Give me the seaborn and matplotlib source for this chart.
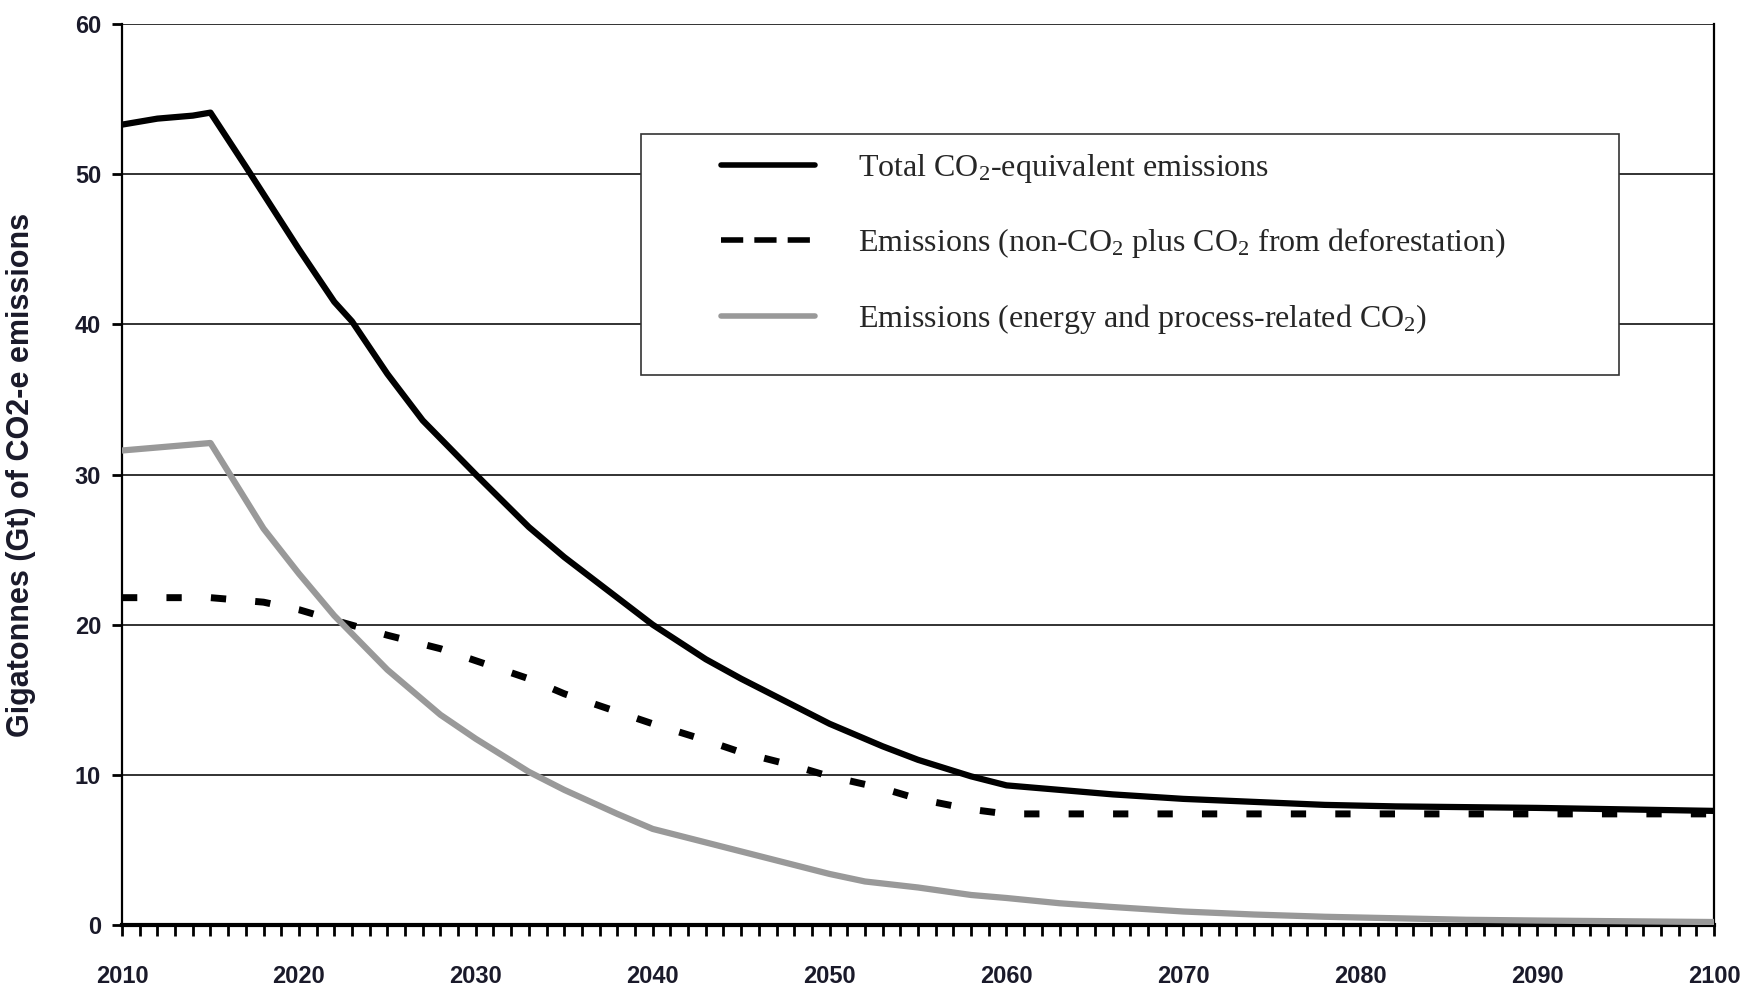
import matplotlib
matplotlib.use("Agg")
import matplotlib.pyplot as plt
from matplotlib.patches import Rectangle
from matplotlib.ticker import MultipleLocator
import seaborn as sns

# Data (Gt CO2-e)
total_years = [2010, 2011, 2012, 2013, 2014, 2015, 2017, 2020, 2022, 2023, 2025, 2027,
               2030, 2033, 2035, 2038, 2040, 2043, 2045, 2048, 2050, 2053, 2055, 2058,
               2060, 2063, 2066, 2070, 2074, 2078, 2082, 2090, 2095, 2100]
total_vals = [53.3, 53.5, 53.7, 53.8, 53.9, 54.1, 50.5, 45.0, 41.5, 40.2, 36.7, 33.6,
              30.0, 26.5, 24.5, 21.8, 20.0, 17.7, 16.4, 14.6, 13.4, 11.9, 11.0, 9.9,
              9.3, 9.0, 8.7, 8.4, 8.2, 8.0, 7.9, 7.8, 7.7, 7.6]

nonco2_years = [2010, 2015, 2018, 2020, 2022, 2025, 2028, 2030, 2033, 2035, 2038, 2040,
                2043, 2045, 2048, 2050, 2053, 2055, 2058, 2060, 2100]
nonco2_vals = [21.8, 21.8, 21.5, 21.0, 20.3, 19.3, 18.4, 17.6, 16.4, 15.4, 14.2, 13.4,
               12.3, 11.5, 10.6, 9.9, 9.1, 8.4, 7.7, 7.4, 7.4]

energy_years = [2010, 2015, 2018, 2020, 2022, 2025, 2028, 2030, 2033, 2035, 2038, 2040,
                2043, 2045, 2048, 2050, 2052, 2055, 2058, 2060, 2063, 2066, 2070, 2074,
                2078, 2082, 2086, 2090, 2095, 2100]
energy_vals = [31.6, 32.1, 26.4, 23.4, 20.6, 17.0, 14.0, 12.4, 10.2, 9.0, 7.4, 6.4,
               5.5, 4.9, 4.0, 3.4, 2.9, 2.5, 2.0, 1.8, 1.45, 1.2, 0.9, 0.7,
               0.55, 0.45, 0.35, 0.3, 0.25, 0.2]

labels = ["Total CO$\\mathregular{_2}$-equivalent emissions",
          "Emissions (non-CO$\\mathregular{_2}$ plus CO$\\mathregular{_2}$ from deforestation)",
          "Emissions (energy and process-related CO$\\mathregular{_2}$)"]

sns.set_style("white")
plt.rcParams["font.family"] = ["Liberation Sans", "DejaVu Sans"]
tick_size = 17

fig = plt.figure(figsize=(17.53, 10.01), dpi=100)
ax = fig.add_axes([0.0696, 0.0759, 0.9082, 0.9001])

sns.lineplot(x=total_years, y=total_vals, ax=ax, color="black", linewidth=4.5,
             label=labels[0], zorder=4)
sns.lineplot(x=nonco2_years, y=nonco2_vals, ax=ax, color="black", linewidth=5,
             label=labels[1], zorder=3)
sns.lineplot(x=energy_years, y=energy_vals, ax=ax, color="#999999", linewidth=4.5,
             label=labels[2], zorder=3)
ax.lines[1].set_linestyle((0, (2.2, 4.2)))
ax.lines[1].set_dash_capstyle("butt")

ax.set_xlim(2010, 2100)
ax.set_ylim(0, 60)
ax.xaxis.set_major_locator(MultipleLocator(10))
ax.xaxis.set_minor_locator(MultipleLocator(1))
ax.yaxis.set_major_locator(MultipleLocator(10))

ax.grid(axis="y", color="#222222", linewidth=1.3)
ax.grid(axis="x", visible=False)
ax.set_axisbelow(True)

ax.spines["top"].set_visible(False)
ax.spines["left"].set_linewidth(1.6)
ax.spines["right"].set_linewidth(1.6)
ax.spines["bottom"].set_linewidth(3)
for s in ["left", "right", "bottom"]:
    ax.spines[s].set_color("black")

ax.tick_params(axis="x", which="both", direction="out", bottom=True, length=8,
               width=2, color="black")
ax.tick_params(axis="x", which="major", pad=21, labelsize=tick_size)
ax.tick_params(axis="y", which="major", direction="out", left=True, length=7,
               width=2, color="black", pad=8, labelsize=tick_size)
for lab in ax.get_xticklabels() + ax.get_yticklabels():
    lab.set_fontweight("bold")
    lab.set_color("#1a1a2a")

ax.set_xlabel("")
ax.set_ylabel("Gigatonnes (Gt) of CO2-e emissions", fontsize=22,
              fontweight="bold", color="#1a1a2a")
ax.yaxis.set_label_coords(-0.054, 0.5)

# legend box drawn separately so the padding matches the original
box = Rectangle((0.326, 0.6104), 0.614, 0.2676, transform=ax.transAxes,
                facecolor="white", edgecolor="#333333", linewidth=1.2, zorder=5)
ax.add_patch(box)

leg = ax.legend(loc="upper left", bbox_to_anchor=(0.376, 0.858),
                frameon=False, prop={"family": "Liberation Serif", "size": 23},
                handlelength=2.95, handletextpad=1.35, borderpad=0,
                labelspacing=1.3, borderaxespad=0)
leg.set_zorder(6)
leg_lines = leg.get_lines()
leg_lines[1].set_linestyle((0, (4, 2)))
for ln in leg_lines:
    ln.set_linewidth(4)

fig.savefig("out.png", dpi=100)
